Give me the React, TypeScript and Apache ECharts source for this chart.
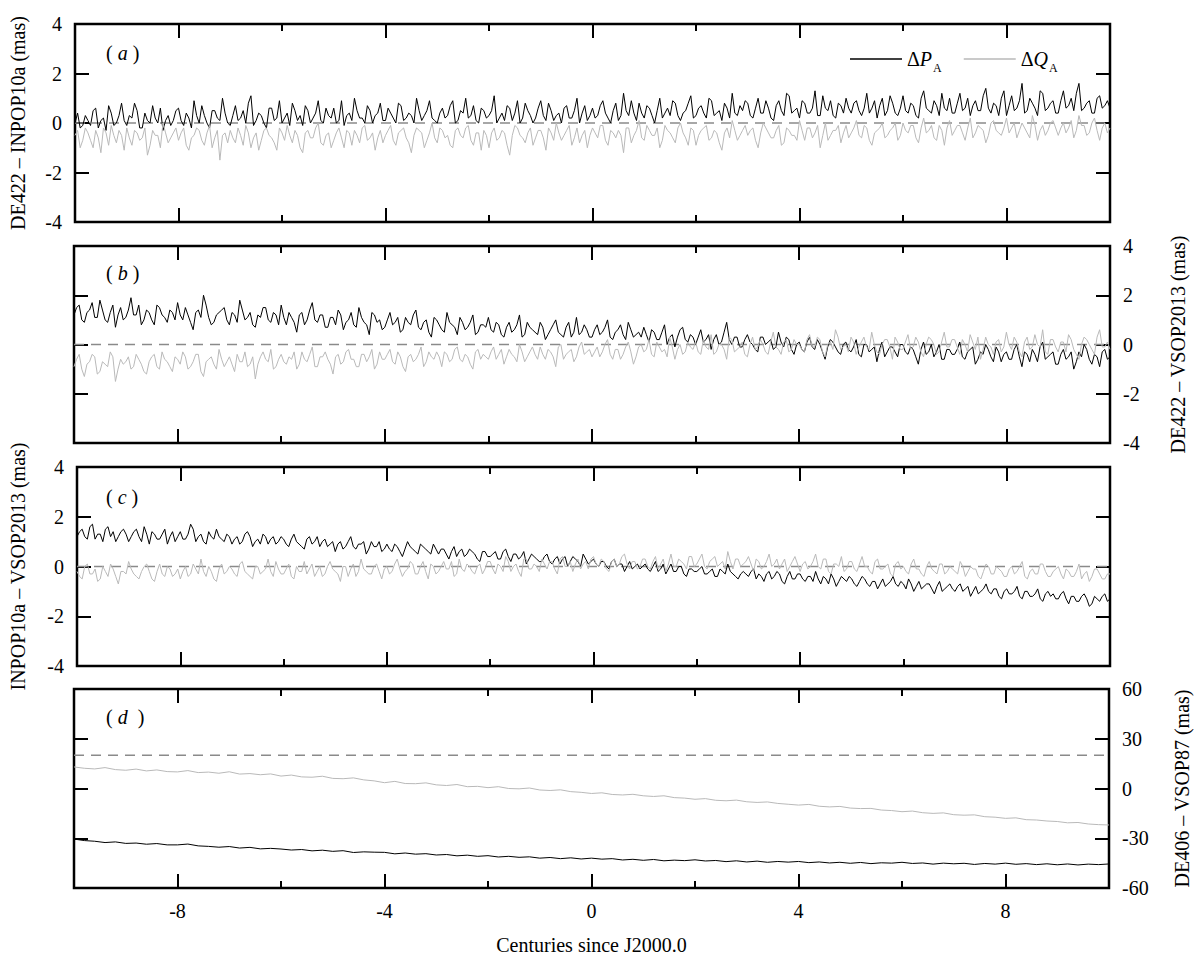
import React, { useEffect, useRef } from "react";
import * as echarts from "echarts";

// ---------- sampling ----------
const X_MIN = -10;
const X_MAX = 10;
const STEP_FINE = 0.1; // panels a, b, c (main samples at -10, -9.9, ...; mid samples at -9.95, -9.85, ...)
const STEP_D = 0.2; // panel d
const X_TICKS_MAJOR = [-8, -4, 0, 4, 8];
const X_TICKS_MINOR = [-6, -2, 2, 6];

// ---------- panel (a): DE422 - INPOP10a ----------
const aP = [
  0.0, -0.2, 0.3, -0.1, 0.6, 0.1, -0.3, 0.4, 0.0, 0.8,
  -0.1, 0.2, 0.5, -0.2, 0.1, 0.7, 0.0, -0.3, 0.3, 0.1,
  0.6, -0.1, 0.2, 0.9, 0.0, 0.3, -0.2, 0.5, 0.1, 0.4,
  -0.1, 0.7, 0.2, 0.0, 1.1, 0.1, 0.3, -0.2, 0.6, 0.2,
  0.0, 0.4, 0.8, 0.1, -0.1, 0.5, 0.2, 0.9, 0.0, 0.3,
  0.6, 0.1, -0.1, 0.4, 1.0, 0.2, 0.0, 0.5, 0.3, 0.8,
  0.1, 0.4, 0.0, 0.7, 0.2, 0.3, 1.0, 0.1, 0.5, 0.2,
  0.0, 0.6, 0.3, 0.9, 0.1, 0.4, 0.2, 0.7, 0.0, 0.5,
  0.3, 1.1, 0.2, 0.1, 0.6, 0.4, 0.0, 0.8, 0.3, 0.2,
  0.9, 0.1, 0.5, 0.3, 0.0, 0.7, 0.2, 1.0, 0.4, 0.1,
  0.6, 0.3, 0.9, 0.2, 0.5, 0.1, 1.2, 0.3, 0.4, 0.8,
  0.2, 0.6, 0.0, 1.0, 0.4, 0.3, 0.8, 0.1, 0.5, 1.1,
  0.3, 0.7, 0.2, 0.9, 0.4, 0.1, 0.6, 1.2, 0.3, 0.5,
  0.8, 0.2, 1.0, 0.4, 0.6, 0.1, 0.9, 0.3, 1.1, 0.5,
  0.2, 0.8, 0.4, 1.3, 0.3, 0.6, 0.9, 0.2, 0.7, 1.0,
  0.4, 0.9, 0.3, 1.2, 0.6, 0.2, 1.0, 0.5, 0.8, 0.3,
  1.1, 0.4, 0.7, 0.2, 1.3, 0.5, 0.9, 0.3, 0.6, 1.0,
  0.4, 1.2, 0.6, 0.3, 0.9, 0.5, 1.4, 0.4, 0.7, 1.0,
  0.3, 1.1, 0.6, 1.6, 0.5, 0.8, 0.3, 1.2, 0.6, 0.9,
  0.4, 1.3, 0.7, 0.5, 1.6, 0.6, 0.9, 0.4, 1.1, 0.7,
  0.6,
];
const aPmid = [
  0.4, -0.1, 0.1, 0.5, -0.2, 0.2, 0.7, -0.1, 0.3, 0.1,
  0.3, 0.8, -0.2, 0.4, 0.0, 0.2, 0.6, 0.1, -0.1, 0.5,
  0.1, 0.4, -0.2, 0.3, 0.7, 0.0, 0.5, 0.2, 1.0, 0.0,
  0.3, 0.1, 0.5, 0.8, -0.1, 0.4, 0.0, 0.6, 0.1, 0.9,
  0.2, -0.1, 0.5, 0.3, 0.7, 0.0, 0.4, 0.1, 0.6, 0.2,
  0.0, 0.9, 0.3, 0.1, 0.5, 0.2, 0.7, 0.0, 0.4, 0.1,
  0.6, 0.2, 0.8, 0.1, 0.4, 0.0, 0.5, 0.3, 0.9, 0.1,
  0.4, 0.2, 0.7, 0.0, 0.5, 1.0, 0.3, 0.1, 0.6, 0.2,
  0.5, 0.0, 0.4, 0.7, 0.1, 0.9, 0.2, 0.5, 0.0, 0.6,
  0.3, 0.8, 0.1, 0.4, 0.6, 0.2, 0.5, 0.0, 0.7, 0.3,
  0.2, 0.7, 0.4, 0.0, 0.8, 0.3, 0.5, 0.9, 0.1, 0.4,
  0.7, 0.3, 0.5, 0.2, 0.6, 0.9, 0.3, 0.4, 0.8, 0.2,
  0.6, 0.4, 1.0, 0.3, 0.5, 0.8, 0.2, 0.4, 0.7, 0.9,
  0.3, 0.6, 0.4, 0.9, 0.2, 0.7, 0.5, 1.2, 0.4, 0.6,
  0.9, 0.4, 0.6, 0.3, 1.1, 0.5, 0.3, 0.8, 0.4, 0.6,
  0.8, 0.5, 0.6, 0.4, 0.9, 0.7, 0.3, 1.1, 0.4, 0.6,
  0.5, 0.8, 0.3, 1.0, 0.6, 0.4, 0.7, 1.2, 0.5, 0.4,
  0.8, 0.5, 1.0, 0.7, 0.5, 1.1, 0.6, 0.8, 0.3, 1.3,
  0.7, 0.5, 0.9, 0.4, 1.0, 0.6, 1.3, 0.5, 0.8, 0.4,
  0.9, 0.6, 1.0, 1.2, 0.5, 0.8, 0.4, 1.0, 0.6, 0.9,
];
const aQ = [
  -0.5, -1.0, -0.2, -0.7, -0.3, -1.2, -0.4, -0.1, -0.8, -0.5,
  -0.2, -0.9, -0.4, -0.6, -1.3, -0.3, -0.5, 0.0, -0.8, -0.4,
  -0.7, -0.2, -1.1, -0.5, -0.3, -0.9, -0.1, -0.6, -1.5, -0.4,
  -0.3, -0.8, -0.5, -0.1, -1.0, -0.4, -0.7, -0.2, -0.6, -1.1,
  -0.4, -0.1, -0.8, -0.5, -1.2, -0.3, -0.6, 0.0, -0.9, -0.4,
  -0.7, -0.2, -1.0, -0.4, -0.3, -0.8, -0.1, -0.6, -1.1, -0.3,
  -0.5, -0.1, -0.9, -0.3, -0.6, -1.2, -0.2, -0.4, -0.7, 0.0,
  -0.8, -0.3, -0.5, -1.0, -0.2, -0.6, -0.1, -0.9, -0.4, -0.3,
  -1.0, -0.2, -0.6, -0.4, -1.3, -0.1, -0.5, -0.8, -0.2, -0.6,
  -0.3, -1.1, -0.4, 0.0, -0.7, -0.3, -0.9, -0.2, -0.5, -1.0,
  -0.2, -0.6, -0.1, -0.9, -0.4, -0.3, -1.2, -0.2, -0.5, 0.1,
  -0.7, -0.3, -0.5, -1.0, -0.1, -0.4, -0.8, 0.0, -0.6, -0.2,
  -0.9, -0.3, -0.1, -0.6, -0.4, -1.1, -0.2, 0.1, -0.7, -0.3,
  -0.5, -0.2, -1.0, 0.0, -0.4, -0.6, -0.1, -0.8, -0.3, -0.5,
  0.1, -0.7, -0.2, -0.4, -1.0, 0.0, -0.5, -0.3, -0.8, -0.1,
  -0.4, 0.1, -0.6, -0.2, -0.9, -0.3, 0.0, -0.5, -0.2, -0.7,
  0.0, -0.4, -0.1, -0.8, 0.2, -0.3, -0.6, -0.1, -0.9, 0.1,
  -0.3, -0.1, -0.7, 0.2, -0.4, -0.2, -0.8, 0.0, -0.3, -0.5,
  0.2, -0.2, -0.6, 0.0, -0.4, 0.3, -0.7, -0.1, -0.3, 0.1,
  -0.5, 0.0, -0.2, -0.6, 0.3, -0.1, -0.4, 0.2, -0.7, 0.0,
  -0.2,
];
const aQmid = [
  -0.3, -0.7, -0.4, -1.0, -0.6, -0.2, -0.9, -0.5, -0.3, -1.1,
  -0.6, -0.3, -0.7, -0.2, -0.9, -0.5, -1.0, -0.4, -0.6, -0.2,
  -0.4, -0.9, -0.6, -0.2, -0.7, -0.4, -1.0, -0.3, -0.5, -0.8,
  -0.6, -0.2, -0.9, -0.4, -0.6, -1.1, -0.3, -0.5, -0.8, -0.2,
  -0.7, -0.5, -0.3, -1.0, -0.4, -0.6, -0.2, -0.8, -0.5, -1.0,
  -0.4, -0.6, -0.3, -0.9, -0.5, -0.2, -0.7, -0.4, -0.6, -0.8,
  -0.3, -0.7, -0.4, -0.2, -0.8, -0.5, -0.3, -1.0, -0.4, -0.6,
  -0.2, -0.6, -0.9, -0.3, -0.5, -0.2, -0.7, -0.4, -1.1, -0.5,
  -0.4, -0.7, -0.3, -0.9, -0.5, -0.2, -0.6, -0.4, -0.9, -0.3,
  -0.6, -0.2, -0.7, -0.4, -0.5, -0.1, -0.6, -0.8, -0.3, -0.5,
  -0.4, -0.1, -0.7, -0.3, -0.6, -0.5, -0.2, -0.8, -0.3, -0.6,
  -0.1, -0.5, -0.2, -0.7, -0.3, -0.6, -0.2, -0.4, -0.9, -0.3,
  -0.5, -0.2, -0.7, -0.3, -0.8, -0.4, -0.6, -0.3, -0.5, -0.1,
  -0.3, -0.7, -0.4, -0.2, -0.6, -0.3, -0.9, -0.2, -0.5, -0.7,
  -0.3, -0.2, -0.6, -0.1, -0.5, -0.7, -0.3, -0.1, -0.4, -0.6,
  -0.2, -0.5, -0.1, -0.7, -0.4, -0.2, -0.6, -0.3, 0.0, -0.5,
  -0.3, -0.1, -0.6, -0.2, -0.4, -0.1, -0.7, -0.3, -0.2, -0.5,
  -0.1, -0.4, -0.2, -0.6, -0.1, -0.3, -0.5, 0.1, -0.4, -0.2,
  -0.4, 0.0, -0.3, -0.2, -0.6, -0.1, -0.3, -0.5, 0.0, -0.2,
  -0.2, -0.4, 0.1, -0.3, -0.1, -0.5, 0.0, -0.3, -0.2, -0.4,
];

// ---------- panel (b): DE422 - VSOP2013 ----------
const bP = [
  1.2, 1.6, 0.9, 1.4, 1.1, 1.8, 1.0, 1.3, 0.7, 1.5,
  1.1, 1.9, 1.2, 0.8, 1.4, 1.0, 1.6, 1.2, 0.9, 1.3,
  1.7, 1.0, 1.2, 0.6, 1.4, 2.0, 1.1, 0.9, 1.3, 1.5,
  0.8, 1.2, 1.8, 1.0, 1.3, 0.7, 1.1, 1.5, 0.9, 1.2,
  1.6, 0.8, 1.1, 0.5, 1.3, 1.0, 1.7, 0.9, 1.2, 0.7,
  1.1, 1.4, 0.6, 1.0, 0.8, 1.5, 0.9, 0.4, 1.2, 1.0,
  0.7, 1.3, 0.9, 0.5, 1.1, 0.8, 1.4, 0.6, 1.0, 0.3,
  1.0, 0.6, 1.3, 0.8, 0.4, 0.9, 0.7, 1.2, 0.5, 0.8,
  1.1, 0.5, 0.8, 0.3, 0.9, 0.6, 1.2, 0.4, 0.7, 0.5,
  0.9, 0.2, 0.6, 1.0, 0.4, 0.7, 0.3, 1.1, 0.5, 0.6,
  0.3, 0.8, 0.5, 1.0, 0.2, 0.6, 0.4, 0.9, 0.3, 0.5,
  0.7, 0.1, 0.5, 0.2, 0.8, 0.3, -0.1, 0.6, 0.2, 0.4,
  0.0, 0.6, 0.2, -0.2, 0.4, 0.1, 0.9, 0.0, 0.3, -0.1,
  0.4, 0.0, -0.3, 0.3, 0.1, -0.2, 0.5, -0.1, 0.2, -0.4,
  0.1, -0.3, 0.3, -0.2, 0.0, -0.6, 0.2, -0.1, -0.4, 0.1,
  -0.3, 0.2, -0.5, 0.0, -0.2, -0.7, 0.1, -0.3, -0.1, -0.5,
  0.0, -0.4, -0.2, -0.8, 0.1, -0.3, -0.5, 0.0, -0.6, -0.2,
  -0.4, 0.1, -0.6, -0.2, -0.8, -0.3, 0.0, -0.5, -0.1, -0.7,
  -0.3, -0.6, 0.0, -0.9, -0.4, -0.2, -0.7, 0.1, -0.5, -0.3,
  -0.8, -0.2, -0.5, -1.0, -0.3, 0.0, -0.6, -0.4, -0.9, -0.2,
  -0.5,
];
const bPmid = [
  1.5, 1.0, 1.3, 1.7, 1.1, 1.4, 0.9, 1.6, 1.2, 1.0,
  1.4, 1.2, 1.6, 1.0, 1.3, 0.8, 1.5, 1.1, 1.4, 1.0,
  1.2, 1.5, 0.9, 1.3, 1.1, 1.6, 0.8, 1.2, 1.4, 1.0,
  1.3, 0.9, 1.4, 1.1, 0.8, 1.2, 1.5, 1.0, 1.3, 0.8,
  1.1, 1.3, 0.9, 1.2, 0.8, 1.4, 1.0, 1.2, 0.7, 1.1,
  0.8, 1.2, 0.9, 1.3, 0.7, 1.1, 0.8, 1.3, 0.9, 0.6,
  1.0, 0.8, 1.1, 0.6, 0.9, 1.2, 0.7, 0.9, 0.5, 1.1,
  0.8, 0.5, 0.9, 0.7, 1.1, 0.6, 0.9, 0.4, 0.8, 0.7,
  0.6, 0.9, 0.4, 0.7, 0.5, 0.8, 0.3, 0.9, 0.6, 0.4,
  0.7, 0.4, 0.8, 0.5, 0.3, 0.9, 0.5, 0.4, 0.8, 0.3,
  0.6, 0.4, 0.7, 0.3, 0.5, 0.8, 0.2, 0.6, 0.4, 0.3,
  0.4, 0.6, 0.2, 0.5, 0.0, 0.4, 0.3, 0.7, 0.1, 0.3,
  0.3, 0.1, 0.4, 0.2, 0.0, 0.5, 0.2, 0.3, -0.1, 0.2,
  0.1, -0.2, 0.3, 0.0, 0.2, -0.1, 0.1, 0.3, -0.2, 0.0,
  -0.2, 0.1, -0.1, 0.2, -0.3, -0.1, 0.1, -0.3, 0.0, -0.2,
  -0.1, -0.4, 0.0, -0.3, -0.1, -0.2, -0.5, -0.1, -0.3, 0.0,
  -0.3, -0.1, -0.5, -0.2, -0.4, 0.0, -0.3, -0.6, -0.2, -0.4,
  -0.2, -0.5, -0.3, -0.1, -0.6, -0.4, -0.2, -0.7, -0.3, -0.4,
  -0.6, -0.2, -0.5, -0.3, -0.7, -0.4, -0.1, -0.6, -0.4, -0.8,
  -0.4, -0.6, -0.3, -0.7, -0.5, -0.2, -0.8, -0.5, -0.3, -0.6,
];
const bQ = [
  -0.9, -0.4, -1.3, -0.7, -0.5, -1.1, -0.8, -0.3, -1.5, -0.6,
  -0.7, -1.0, -0.4, -0.8, -1.2, -0.5, -0.9, -0.3, -0.7, -1.1,
  -0.6, -0.3, -1.0, -0.7, -0.4, -1.3, -0.6, -0.8, -0.2, -0.9,
  -0.5, -1.1, -0.7, -0.3, -0.8, -1.4, -0.5, -0.6, -0.2, -0.9,
  -0.4, -0.8, -0.6, -1.0, -0.3, -0.7, -0.1, -0.9, -0.5, -0.6,
  -1.2, -0.4, -0.7, -0.2, -0.6, -0.9, -0.4, -0.5, -1.0, -0.3,
  -0.6, -0.2, -0.8, -0.5, -1.1, -0.4, -0.6, -0.1, -0.7, -0.5,
  -0.3, -0.9, -0.4, -0.6, -0.1, -0.7, -0.5, -1.0, -0.2, -0.4,
  -0.6, -0.1, -0.4, -0.8, -0.2, -0.5, 0.0, -0.7, -0.3, -0.4,
  -0.1, -0.6, -0.3, -0.9, 0.0, -0.4, -0.2, -0.5, 0.1, -0.3,
  -0.5, -0.1, -0.3, 0.2, -0.6, -0.2, -0.4, 0.1, -0.8, -0.1,
  -0.3, 0.2, -0.5, -0.1, -0.2, 0.3, -0.6, 0.0, -0.3, -0.1,
  0.1, -0.4, -0.1, 0.4, -0.3, 0.0, -0.6, 0.2, -0.2, 0.1,
  -0.5, 0.3, -0.1, 0.0, -0.4, 0.5, -0.2, 0.1, -0.3, 0.2,
  0.0, -0.3, 0.4, -0.1, 0.2, -0.5, 0.1, 0.6, -0.2, 0.0,
  0.3, -0.4, 0.1, -0.1, 0.5, -0.3, 0.0, 0.2, -0.6, 0.1,
  -0.2, 0.4, -0.1, 0.1, -0.5, 0.3, 0.0, -0.3, 0.5, -0.1,
  0.2, -0.4, 0.0, 0.4, -0.2, -0.6, 0.3, -0.1, 0.1, -0.3,
  0.5, -0.2, 0.1, -0.5, 0.3, -0.1, 0.0, 0.6, -0.4, 0.2,
  -0.3, 0.1, 0.4, -0.2, -0.6, 0.3, 0.0, -0.4, 0.6, -0.1,
  -0.2,
];
const bQmid = [
  -0.6, -1.0, -0.8, -0.4, -1.2, -0.7, -0.9, -0.5, -1.0, -0.8,
  -0.5, -0.9, -0.6, -1.1, -0.7, -0.4, -1.0, -0.6, -0.9, -0.5,
  -0.8, -0.5, -0.9, -0.4, -1.1, -0.7, -0.5, -1.0, -0.6, -0.7,
  -0.8, -0.4, -0.7, -0.9, -0.5, -0.8, -0.3, -0.7, -1.0, -0.6,
  -0.7, -0.5, -0.3, -0.8, -0.6, -0.4, -0.9, -0.5, -0.3, -0.8,
  -0.5, -0.8, -0.3, -0.6, -0.9, -0.4, -0.7, -0.2, -0.8, -0.6,
  -0.4, -0.7, -0.3, -0.9, -0.5, -0.7, -0.4, -0.9, -0.3, -0.6,
  -0.5, -0.3, -0.7, -0.2, -0.6, -0.4, -0.8, -0.3, -0.6, -0.5,
  -0.3, -0.6, -0.2, -0.5, -0.4, -0.7, -0.3, -0.5, -0.1, -0.6,
  -0.4, -0.2, -0.5, -0.1, -0.6, -0.3, -0.7, -0.1, -0.4, -0.2,
  -0.3, -0.5, 0.0, -0.4, -0.2, -0.6, -0.1, -0.3, -0.5, 0.0,
  -0.2, -0.4, 0.1, -0.3, -0.5, -0.1, -0.2, -0.4, 0.1, -0.2,
  -0.3, 0.2, -0.2, -0.4, 0.0, -0.2, 0.3, -0.3, -0.1, -0.4,
  0.0, -0.2, 0.2, -0.3, 0.1, -0.1, -0.4, 0.2, -0.2, 0.0,
  -0.2, 0.2, -0.1, 0.3, -0.3, 0.0, -0.2, 0.3, -0.1, -0.3,
  0.1, -0.1, 0.3, -0.2, 0.0, -0.4, 0.2, -0.1, 0.3, -0.2,
  0.1, -0.2, 0.3, -0.3, 0.0, 0.2, -0.4, 0.1, -0.1, 0.2,
  -0.1, 0.2, -0.3, 0.1, 0.3, -0.2, 0.0, -0.4, 0.2, -0.1,
  0.0, 0.3, -0.3, 0.1, -0.2, 0.4, -0.1, -0.3, 0.2, -0.1,
  0.1, -0.3, 0.2, -0.4, 0.0, 0.2, -0.2, 0.3, -0.1, 0.1,
];

// ---------- panel (c): INPOP10a - VSOP2013 ----------
const cP = [
  1.2, 1.5, 1.1, 1.7, 1.3, 1.0, 1.6, 1.4, 1.2, 1.5,
  1.0, 1.4, 1.2, 1.6, 0.9, 1.3, 1.1, 1.5, 1.2, 1.0,
  1.4, 1.1, 1.7, 1.0, 1.3, 0.9, 1.2, 1.5, 1.1, 1.3,
  0.9, 1.2, 1.0, 1.4, 0.8, 1.1, 1.3, 0.9, 1.2, 1.0,
  1.1, 0.8, 1.3, 0.9, 0.7, 1.2, 1.0, 0.8, 1.1, 0.9,
  0.6, 1.0, 0.8, 1.2, 0.7, 0.9, 0.5, 1.0, 0.8, 0.6,
  0.9, 0.6, 0.8, 0.4, 1.0, 0.7, 0.5, 0.8, 0.6, 0.9,
  0.5, 0.7, 0.3, 0.8, 0.6, 0.4, 0.7, 0.5, 0.2, 0.6,
  0.4, 0.6, 0.3, 0.7, 0.2, 0.5, 0.4, 0.1, 0.5, 0.3,
  0.2, 0.5, 0.1, 0.4, 0.3, 0.0, 0.4, 0.2, 0.5, 0.1,
  0.3, 0.0, 0.2, -0.1, 0.3, 0.1, -0.2, 0.2, 0.0, -0.1,
  0.1, -0.2, 0.2, -0.1, -0.3, 0.1, -0.2, 0.0, -0.4, -0.1,
  -0.2, 0.0, -0.3, -0.1, -0.4, -0.2, 0.1, -0.3, -0.5, -0.2,
  -0.4, -0.1, -0.3, -0.6, -0.2, -0.4, -0.3, -0.7, -0.2, -0.5,
  -0.3, -0.6, -0.4, -0.2, -0.7, -0.5, -0.3, -0.8, -0.4, -0.6,
  -0.5, -0.8, -0.4, -0.7, -0.6, -0.9, -0.5, -0.7, -0.4, -0.8,
  -0.7, -0.5, -1.0, -0.6, -0.8, -0.7, -1.1, -0.6, -0.9, -0.7,
  -1.0, -0.7, -0.9, -1.2, -0.8, -1.0, -0.7, -1.1, -0.9, -1.3,
  -0.9, -1.1, -0.8, -1.3, -1.0, -1.2, -0.9, -1.4, -1.0, -1.1,
  -1.3, -1.0, -1.5, -1.2, -1.4, -1.1, -1.6, -1.2, -1.4, -1.1,
  -1.3,
];
const cPmid = [
  1.4, 1.2, 1.6, 1.1, 1.3, 1.5, 1.2, 1.0, 1.4, 1.3,
  1.2, 1.5, 1.0, 1.3, 1.4, 1.1, 1.3, 0.9, 1.4, 1.2,
  1.1, 1.3, 1.5, 1.2, 1.0, 1.4, 1.1, 1.2, 1.0, 1.2,
  1.1, 0.9, 1.3, 1.2, 1.0, 0.9, 1.2, 1.1, 0.9, 1.2,
  0.9, 1.1, 1.0, 0.8, 1.1, 0.9, 1.2, 1.0, 0.8, 1.0,
  0.9, 0.7, 1.0, 0.8, 0.9, 1.0, 0.7, 0.8, 1.0, 0.7,
  0.7, 0.9, 0.6, 0.7, 0.8, 0.6, 0.9, 0.7, 0.5, 0.7,
  0.7, 0.5, 0.6, 0.4, 0.7, 0.5, 0.6, 0.3, 0.6, 0.4,
  0.5, 0.3, 0.6, 0.4, 0.5, 0.3, 0.6, 0.3, 0.4, 0.2,
  0.4, 0.2, 0.3, 0.1, 0.4, 0.2, 0.3, 0.0, 0.3, 0.2,
  0.1, 0.2, 0.0, 0.2, 0.0, 0.1, 0.0, -0.1, 0.1, 0.0,
  -0.1, 0.0, -0.2, 0.1, -0.1, -0.2, 0.0, -0.3, -0.1, -0.2,
  -0.1, -0.3, -0.2, -0.4, -0.1, -0.3, -0.2, -0.4, -0.3, -0.3,
  -0.2, -0.5, -0.4, -0.3, -0.5, -0.2, -0.6, -0.4, -0.5, -0.3,
  -0.5, -0.4, -0.6, -0.5, -0.4, -0.7, -0.5, -0.6, -0.5, -0.4,
  -0.7, -0.6, -0.5, -0.8, -0.6, -0.7, -0.8, -0.6, -0.7, -0.6,
  -0.9, -0.7, -0.8, -0.9, -0.7, -0.9, -0.8, -1.0, -0.8, -0.9,
  -0.8, -1.0, -0.8, -1.0, -1.1, -0.9, -1.0, -0.9, -1.2, -1.0,
  -1.1, -1.0, -1.2, -1.0, -1.2, -1.1, -1.3, -1.1, -1.2, -1.3,
  -1.1, -1.3, -1.2, -1.4, -1.2, -1.3, -1.5, -1.3, -1.2, -1.4,
];
const cQ = [
  -0.2, -0.5, 0.1, -0.3, -0.6, 0.0, -0.4, -0.1, -0.7, -0.2,
  0.2, -0.3, -0.5, 0.0, -0.2, -0.6, 0.1, -0.4, -0.1, -0.3,
  -0.5, 0.0, -0.3, -0.1, 0.3, -0.4, -0.2, -0.6, 0.1, -0.2,
  -0.1, -0.4, 0.2, -0.3, -0.5, 0.0, -0.2, 0.3, -0.4, -0.1,
  -0.3, 0.1, -0.5, -0.2, 0.2, -0.1, -0.4, 0.0, -0.3, 0.2,
  -0.2, -0.6, 0.0, -0.1, -0.4, 0.3, -0.2, -0.3, 0.1, -0.5,
  0.0, -0.2, 0.3, -0.4, -0.1, 0.1, -0.3, 0.2, -0.5, 0.0,
  -0.2, 0.2, -0.1, -0.4, 0.3, -0.2, 0.0, -0.3, 0.1, -0.1,
  0.2, -0.3, 0.0, 0.4, -0.2, 0.1, -0.4, 0.3, -0.1, 0.0,
  0.3, -0.1, 0.2, -0.3, 0.4, 0.0, -0.2, 0.3, 0.1, -0.1,
  0.4, 0.0, 0.2, -0.2, 0.3, 0.1, 0.5, -0.1, 0.2, 0.0,
  0.3, -0.1, 0.4, 0.1, -0.2, 0.5, 0.0, 0.2, -0.1, 0.4,
  0.1, 0.5, -0.1, 0.3, 0.0, 0.2, 0.6, -0.1, 0.3, 0.1,
  0.4, -0.2, 0.2, 0.0, 0.5, 0.1, -0.1, 0.3, 0.0, 0.4,
  -0.2, 0.2, 0.0, 0.5, -0.1, 0.3, -0.3, 0.1, 0.4, -0.1,
  0.2, -0.2, 0.4, 0.0, -0.3, 0.3, -0.1, 0.1, -0.4, 0.2,
  0.0, -0.3, 0.3, -0.1, -0.4, 0.2, -0.2, 0.1, -0.3, 0.0,
  -0.2, 0.2, -0.4, 0.0, -0.1, -0.5, 0.1, -0.3, 0.0, -0.2,
  -0.4, 0.0, -0.2, 0.2, -0.5, -0.1, -0.3, 0.1, -0.4, -0.2,
  0.0, -0.5, -0.2, -0.4, 0.1, -0.3, -0.6, -0.1, -0.3, -0.5,
  -0.3,
];
const cQmid = [
  -0.4, 0.0, -0.3, -0.1, -0.5, -0.2, 0.1, -0.4, -0.2, -0.3,
  -0.1, -0.4, -0.2, 0.1, -0.5, -0.2, -0.3, 0.0, -0.4, -0.1,
  -0.2, -0.4, 0.1, -0.3, -0.2, 0.0, -0.5, -0.1, -0.3, 0.0,
  -0.3, 0.1, -0.2, -0.4, 0.0, -0.3, -0.1, -0.2, 0.2, -0.3,
  -0.1, -0.4, 0.0, -0.2, -0.3, 0.1, -0.2, -0.4, 0.0, -0.1,
  -0.3, 0.0, -0.4, 0.1, -0.2, -0.1, -0.3, 0.0, -0.2, -0.1,
  -0.3, 0.1, -0.1, -0.2, 0.2, -0.3, 0.0, -0.2, 0.1, -0.3,
  0.0, -0.1, 0.2, -0.3, -0.1, 0.1, -0.2, 0.0, -0.3, 0.2,
  -0.1, 0.1, -0.2, 0.2, 0.0, -0.2, 0.3, -0.1, 0.1, -0.2,
  0.1, 0.2, -0.1, 0.3, 0.0, 0.2, 0.1, -0.1, 0.2, 0.3,
  0.1, 0.3, -0.1, 0.2, 0.0, 0.4, 0.1, 0.2, -0.1, 0.3,
  0.0, 0.2, -0.1, 0.3, 0.1, 0.0, 0.3, 0.1, 0.4, 0.0,
  0.3, 0.0, 0.2, 0.4, 0.1, -0.1, 0.2, 0.3, 0.0, 0.2,
  0.1, 0.3, -0.1, 0.2, 0.0, 0.3, 0.1, -0.2, 0.2, 0.1,
  0.1, -0.1, 0.2, 0.0, 0.3, -0.2, 0.1, 0.0, -0.2, 0.2,
  -0.1, 0.1, 0.0, -0.2, 0.2, -0.1, 0.0, -0.3, 0.1, -0.1,
  -0.2, 0.1, -0.1, -0.3, 0.0, -0.1, -0.3, 0.1, -0.2, -0.1,
  -0.3, 0.0, -0.2, -0.1, -0.4, -0.2, 0.0, -0.3, -0.1, -0.4,
  -0.1, -0.3, 0.0, -0.4, -0.2, -0.3, 0.1, -0.2, -0.4, -0.1,
  -0.3, -0.1, -0.4, -0.2, -0.5, -0.2, -0.4, -0.1, -0.5, -0.3,
];

// ---------- panel (d): DE406 - VSOP87 ----------
const dP = [
  -30.5, -31.4, -31.8, -32.6, -32.2, -33.1, -32.9, -33.6, -33.2, -34.0,
  -34.0, -33.5, -34.6, -34.9, -35.4, -35.0, -35.9, -35.5, -36.4, -36.1,
  -36.5, -37.1, -36.8, -37.6, -37.2, -37.9, -37.5, -38.6, -38.2, -38.4,
  -38.5, -39.4, -38.9, -39.6, -39.3, -40.1, -39.8, -40.6, -40.2, -40.9,
  -40.5, -41.3, -40.9, -41.5, -41.2, -42.0, -41.6, -42.3, -41.8, -42.5,
  -42.0, -42.6, -42.3, -43.1, -42.7, -43.3, -42.8, -43.6, -43.2, -43.5,
  -43.0, -43.7, -43.4, -44.1, -43.6, -44.3, -43.8, -44.5, -44.0, -44.4,
  -44.0, -44.7, -44.3, -44.9, -44.5, -45.1, -44.6, -45.3, -44.8, -45.0,
  -44.5, -45.2, -44.9, -45.6, -45.0, -45.4, -45.1, -45.8, -45.2, -45.6,
  -45.0, -45.7, -45.3, -45.9, -45.4, -46.0, -45.5, -46.1, -45.6, -45.9,
  -45.5,
];
const dQ = [
  13.0, 12.2, 11.8, 12.6, 11.4, 11.0, 11.7, 10.6, 11.2, 10.2,
  10.0, 10.8, 9.6, 9.9, 9.2, 10.1, 8.7, 9.0, 8.3, 8.8,
  7.5, 8.1, 7.0, 6.8, 7.4, 6.1, 5.9, 6.4, 5.2, 4.6,
  3.5, 4.3, 3.0, 2.9, 3.4, 2.2, 1.8, 2.4, 1.1, 1.3,
  0.5, 1.1, 0.0, -0.2, 0.3, -0.9, -1.2, -0.8, -1.9, -2.3,
  -3.0, -2.6, -3.6, -3.9, -3.5, -4.4, -4.8, -4.4, -5.5, -5.8,
  -6.5, -6.1, -7.1, -7.4, -7.0, -8.0, -8.4, -8.1, -9.0, -9.5,
  -10.0, -9.6, -10.7, -11.1, -10.8, -11.8, -12.1, -12.0, -13.0, -13.3,
  -14.0, -13.6, -14.6, -15.0, -14.7, -15.8, -16.1, -15.9, -17.0, -17.3,
  -18.0, -17.7, -18.8, -19.0, -19.6, -19.9, -20.7, -20.5, -21.4, -21.8,
  -22.0,
];

// ---------- labels ----------
const PANEL_TAGS = ["a", "b", "c", "d"];
const PANEL_TITLES = [
  "DE422 – INPOP10a (mas)",
  "DE422 – VSOP2013 (mas)",
  "INPOP10a – VSOP2013 (mas)",
  "DE406 – VSOP87 (mas)",
];
const Y_RANGES = [
  [-4, 4, 2],
  [-4, 4, 2],
  [-4, 4, 2],
  [-60, 60, 30],
];
const REF_LINES = [0, 0, 0, 20];
const X_TITLE = "Centuries since J2000.0";
const NAME_P = "ΔP_A";
const NAME_Q = "ΔQ_A";

// ---------- layout / style ----------
const FONT = "Liberation Serif";
const GRID_LEFT = 74;
const GRID_RIGHT = 90;
const PANEL_TOP = [24, 246, 467, 689];
const PANEL_H = [198, 197, 199, 199];
const LABEL_SIDE = ["left", "right", "left", "right"];
const NAME_GAP = [47, 58, 49, 63];
const TAG_Y = [55, 275, 499, 719];
const COLOR_P = "#000000";
const COLOR_Q = "#b9b9b9";

// main samples at X_MIN + i*step, optional mid samples at X_MIN + (i + 0.5)*step
function samples(main: number[], mid: number[] | null, step: number) {
  const out: number[][] = [];
  main.forEach((v, i) => {
    out.push([Math.round((X_MIN + i * step) * 1000) / 1000, v]);
    if (mid && i < mid.length) {
      out.push([Math.round((X_MIN + (i + 0.5) * step) * 1000) / 1000, mid[i]]);
    }
  });
  return out;
}

function buildOption() {
  const grid: any[] = [];
  const xAxis: any[] = [];
  const yAxis: any[] = [];
  const series: any[] = [];
  const graphic: any[] = [];
  const datasets: [number[], number[] | null, number[], number[] | null, number][] = [
    [aP, aPmid, aQ, aQmid, STEP_FINE],
    [bP, bPmid, bQ, bQmid, STEP_FINE],
    [cP, cPmid, cQ, cQmid, STEP_FINE],
    [dP, null, dQ, null, STEP_D],
  ];

  const tickStyle = { color: "#000", width: 2 };

  for (let i = 0; i < 4; i++) {
    grid.push({
      left: GRID_LEFT,
      right: GRID_RIGHT,
      top: PANEL_TOP[i],
      height: PANEL_H[i],
      show: true,
      borderColor: "#000",
      borderWidth: 2.5,
      backgroundColor: "transparent",
    });
    const isLast = i === 3;
    const xBase = {
      gridIndex: i,
      type: "value",
      min: X_MIN,
      max: X_MAX,
      axisLine: { show: false, onZero: false },
      splitLine: { show: false },
    };
    for (const pos of ["bottom", "top"]) {
      xAxis.push({
        ...xBase,
        position: pos,
        axisTick: {
          show: true,
          inside: true,
          length: 14,
          customValues: X_TICKS_MAJOR,
          lineStyle: tickStyle,
        },
        axisLabel: {
          show: isLast && pos === "bottom",
          customValues: X_TICKS_MAJOR,
          margin: 13,
          fontSize: 20,
          fontFamily: FONT,
          color: "#000",
        },
        name: isLast && pos === "bottom" ? X_TITLE : "",
        nameLocation: "middle",
        nameGap: 47,
        nameTextStyle: { fontSize: 20, fontFamily: FONT, color: "#000" },
      });
      xAxis.push({
        ...xBase,
        position: pos,
        axisTick: {
          show: true,
          inside: true,
          length: 7,
          customValues: X_TICKS_MINOR,
          lineStyle: tickStyle,
        },
        axisLabel: { show: false },
      });
    }

    const [yMin, yMax, yInt] = Y_RANGES[i];
    for (const side of ["left", "right"]) {
      const labelled = side === LABEL_SIDE[i];
      yAxis.push({
        gridIndex: i,
        type: "value",
        position: side,
        min: yMin,
        max: yMax,
        interval: yInt,
        axisLine: { show: false, onZero: false },
        splitLine: { show: false },
        axisTick: {
          show: true,
          inside: true,
          length: 14,
          lineStyle: tickStyle,
        },
        axisLabel: {
          show: labelled,
          margin: 13,
          fontSize: 20,
          fontFamily: FONT,
          color: "#000",
        },
        name: labelled ? PANEL_TITLES[i] : "",
        nameLocation: "middle",
        nameGap: NAME_GAP[i],
        nameTextStyle: { fontSize: 20, fontFamily: FONT, color: "#000" },
      });
    }

    const [P, Pmid, Q, Qmid, step] = datasets[i];
    series.push({
      name: "ref" + i,
      type: "line",
      xAxisIndex: 4 * i,
      yAxisIndex: 2 * i,
      data: [
        [X_MIN, REF_LINES[i]],
        [X_MAX, REF_LINES[i]],
      ],
      symbol: "none",
      silent: true,
      lineStyle: { color: "#8a8a8a", width: 1.5, type: [10, 7] },
      z: 1,
    });
    series.push({
      name: NAME_P,
      type: "line",
      xAxisIndex: 4 * i,
      yAxisIndex: 2 * i,
      data: samples(P, Pmid, step),
      symbol: "none",
      lineStyle: { color: COLOR_P, width: 1 },
      itemStyle: { color: COLOR_P },
      z: 2,
    });
    series.push({
      name: NAME_Q,
      type: "line",
      xAxisIndex: 4 * i,
      yAxisIndex: 2 * i,
      data: samples(Q, Qmid, step),
      symbol: "none",
      lineStyle: { color: COLOR_Q, width: 1 },
      itemStyle: { color: COLOR_Q },
      z: 3,
    });

    graphic.push({
      type: "text",
      left: 106,
      top: TAG_Y[i] - 12,
      style: {
        text: i === 3 ? "( {i|" + PANEL_TAGS[i] + "}  )" : "( {i|" + PANEL_TAGS[i] + "} )",
        fontSize: 20,
        fontFamily: FONT,
        fill: "#000",
        rich: {
          i: { fontSize: 20, fontFamily: FONT, fontStyle: "italic", fill: "#000" },
        },
      },
    });
  }

  return {
    animation: false,
    backgroundColor: "#fff",
    textStyle: { fontFamily: FONT },
    grid,
    xAxis,
    yAxis,
    series,
    graphic,
    legend: {
      data: [NAME_P, NAME_Q],
      left: 845,
      top: 44,
      icon: "rect",
      itemWidth: 52,
      itemHeight: 1.5,
      itemGap: 22,
      selectedMode: false,
      formatter: (name: string) =>
        name === NAME_P ? "{d|Δ}{i|P}{s|A}" : "{d|Δ}{i|Q}{s|A}",
      textStyle: {
        color: "#000",
        fontFamily: FONT,
        fontSize: 20,
        rich: {
          d: { fontSize: 20, fontFamily: FONT, color: "#000", lineHeight: 30, verticalAlign: "middle" },
          i: { fontSize: 20, fontFamily: FONT, fontStyle: "italic", color: "#000", lineHeight: 30, verticalAlign: "middle" },
          s: { fontSize: 12, fontFamily: FONT, color: "#000", lineHeight: 12, verticalAlign: "bottom", padding: [0, 0, 0, 1] },
        },
      },
    },
  };
}

export default function App() {
  const ref = useRef<HTMLDivElement>(null);
  useEffect(() => {
    if (!ref.current) return;
    const chart = echarts.init(ref.current, null, { renderer: "svg" });
    chart.setOption(buildOption() as any);
    return () => chart.dispose();
  }, []);
  return (
    <div
      ref={ref}
      style={{ position: "fixed", left: 0, top: 0, width: 1200, height: 960, background: "#fff" }}
    />
  );
}
